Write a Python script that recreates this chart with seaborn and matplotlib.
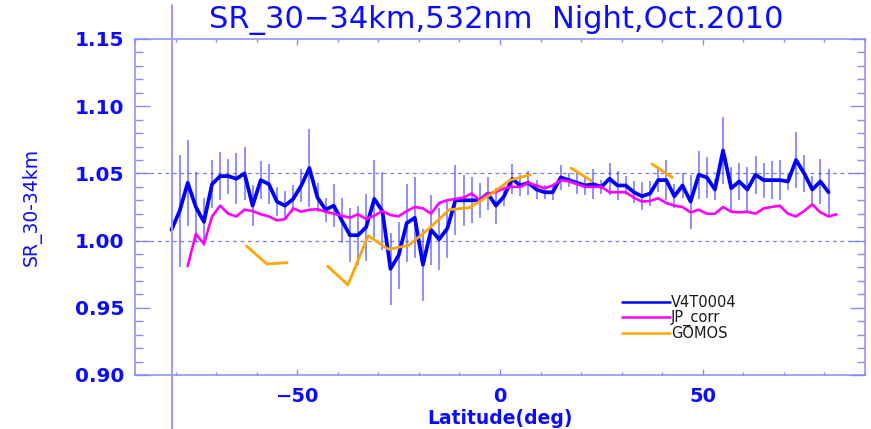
import numpy as np
import pandas as pd
import matplotlib
matplotlib.use("Agg")
import matplotlib.pyplot as plt
import seaborn as sns
from matplotlib.lines import Line2D
from matplotlib.ticker import MultipleLocator, FormatStrFormatter

# ---------------- data ----------------
v4_lat = list(range(-81, 82, 2))
v4_val = [1.008, 1.022, 1.043, 1.025, 1.014, 1.042, 1.048, 1.048, 1.046, 1.050,
          1.026, 1.045, 1.042, 1.029, 1.026, 1.031, 1.041, 1.054, 1.032, 1.023,
          1.026, 1.015, 1.004, 1.004, 1.010, 1.031, 1.022, 0.979, 0.989, 1.013,
          1.017, 0.982, 1.008, 1.001, 1.009, 1.030, 1.030, 1.030, 1.030, 1.035,
          1.026, 1.033, 1.046, 1.041, 1.043, 1.038, 1.036, 1.036, 1.047, 1.045,
          1.043, 1.041, 1.042, 1.040, 1.046, 1.041, 1.041, 1.036, 1.033, 1.035,
          1.045, 1.045, 1.033, 1.041, 1.029, 1.049, 1.047, 1.038, 1.067, 1.039,
          1.044, 1.038, 1.049, 1.045, 1.045, 1.045, 1.044, 1.060, 1.050, 1.038,
          1.044, 1.036]
v4_err = [0.030, 0.042, 0.032, 0.026, 0.018, 0.018, 0.018, 0.013, 0.019, 0.020,
          0.015, 0.014, 0.015, 0.011, 0.011, 0.010, 0.012, 0.029, 0.011, 0.009,
          0.016, 0.017, 0.020, 0.022, 0.025, 0.029, 0.029, 0.027, 0.025, 0.029,
          0.030, 0.027, 0.026, 0.023, 0.022, 0.026, 0.019, 0.017, 0.013, 0.0125,
          0.0135, 0.007, 0.011, 0.008, 0.009, 0.007, 0.005, 0.0055, 0.009, 0.005,
          0.0085, 0.007, 0.011, 0.005, 0.012, 0.011, 0.007, 0.008, 0.0105, 0.009,
          0.009, 0.015, 0.009, 0.009, 0.020, 0.018, 0.015, 0.008, 0.025, 0.016,
          0.014, 0.017, 0.014, 0.013, 0.014, 0.015, 0.006, 0.021, 0.014, 0.010,
          0.017, 0.017]

jp_lat = list(range(-77, 84, 2))
jp_val = [0.981, 1.005, 0.9975, 1.018, 1.026, 1.020, 1.018, 1.023, 1.022, 1.0196,
          1.018, 1.015, 1.016, 1.024, 1.0215, 1.023, 1.0233, 1.0215, 1.020, 1.0185,
          1.017, 1.0196, 1.016, 1.0185, 1.022, 1.019, 1.018, 1.022, 1.025, 1.024,
          1.020, 1.028, 1.030, 1.031, 1.032, 1.035, 1.030, 1.035, 1.036, 1.039,
          1.040, 1.040, 1.043, 1.041, 1.039, 1.041, 1.045, 1.044, 1.042, 1.040,
          1.040, 1.040, 1.036, 1.036, 1.036, 1.032, 1.029, 1.0295, 1.0315, 1.028,
          1.026, 1.025, 1.021, 1.023, 1.020, 1.020, 1.025, 1.0215, 1.021, 1.0215,
          1.020, 1.024, 1.025, 1.026, 1.020, 1.018, 1.022, 1.027, 1.021, 1.018,
          1.0195]

gomos_lat = [-62.5, -57.5, -52.5, -47.5, -42.5, -37.5, -32.5, -27.5, -22.5, -17.5, -12.5,
             -7.5, -2.5, 2.5, 7.5, 12.5, 17.5, 22.5, 27.5, 32.5, 37.5, 42.5]
gomos_val = [0.996, 0.9826, 0.9836, np.nan, 0.981, 0.967, 1.0036, 0.9935, 0.9965, 1.009, 1.023,
             1.0245, 1.034, 1.045, 1.049, np.nan, 1.054, 1.0445, np.nan, np.nan, 1.057, 1.047]

series_names = ["V4T0004", "JP_corr", "GOMOS"]
title_text = "SR_30\u221234km,532nm  Night,Oct.2010"
xlabel_text = "Latitude(deg)"
ylabel_text = "SR_30-34km"

# ---------------- style ----------------
sns.set_style("white")
plt.rcParams["font.family"] = ["DejaVu Sans"]

BLUE_TXT = "#0b0bff"
AX_COL = "#8a8aff"
C_V4 = "#0000ff"
C_ERR = "#3535ff"
C_JP = "#ff00ff"
C_GO = "#ffa500"

fig = plt.figure(figsize=(8.71, 4.29), dpi=100)
W, H = 871, 429
ax = fig.add_axes([135 / W, 1 - 375 / H, 730 / W, 336 / H])

df_v4 = pd.DataFrame({"lat": v4_lat, "sr": v4_val, "err": v4_err})
df_jp = pd.DataFrame({"lat": jp_lat, "sr": jp_val})
df_go = pd.DataFrame({"lat": gomos_lat, "sr": gomos_val})
df_go["seg"] = df_go["sr"].isna().cumsum()
df_go = df_go.dropna()

# reference lines
for yv in (1.00, 1.05):
    ax.axhline(yv, color="#7a7aee", lw=0.9, ls=(0, (3, 3)), zorder=1)

# error bars
ax.vlines(df_v4["lat"], df_v4["sr"] - df_v4["err"], df_v4["sr"] + df_v4["err"],
          color=C_ERR, alpha=0.6, lw=1.3, zorder=2)

sns.lineplot(data=df_v4, x="lat", y="sr", color=C_V4, lw=2.7, ax=ax,
             estimator=None, sort=False, zorder=3)
sns.lineplot(data=df_jp, x="lat", y="sr", color=C_JP, lw=1.9, ax=ax,
             estimator=None, sort=False, zorder=4)
sns.lineplot(data=df_go, x="lat", y="sr", units="seg", color=C_GO, lw=2.0, ax=ax,
             estimator=None, sort=False, zorder=5)

ax.set_xlim(-90, 90)
ax.set_ylim(0.90, 1.15)

# vertical light line crossing the figure
ax.axvline(-81, ymin=-0.17, ymax=1.10, color="#9a9aff", lw=1.4, clip_on=False, zorder=6)

# axes styling
for s in ax.spines.values():
    s.set_color(AX_COL)
    s.set_linewidth(1.1)
    s.set_visible(True)

ax.xaxis.set_major_locator(MultipleLocator(50))
ax.xaxis.set_minor_locator(MultipleLocator(10))
ax.yaxis.set_major_locator(MultipleLocator(0.05))
ax.yaxis.set_minor_locator(MultipleLocator(0.01))
ax.yaxis.set_major_formatter(FormatStrFormatter("%.2f"))

ax.tick_params(axis="x", which="major", direction="in", length=4.3, width=1,
               color=AX_COL, top=True, bottom=True, labelsize=14, labelcolor=BLUE_TXT, pad=9)
ax.tick_params(axis="x", which="minor", direction="in", length=2.2, width=1,
               color=AX_COL, top=True, bottom=True)
ax.tick_params(axis="y", which="major", direction="in", length=11, width=1,
               color=AX_COL, left=True, right=True, labelsize=14.5, labelcolor=BLUE_TXT, pad=8)
ax.tick_params(axis="y", which="minor", direction="in", length=5.5, width=1,
               color=AX_COL, left=True, right=True)
for lab in ax.get_xticklabels() + ax.get_yticklabels():
    lab.set_fontweight("bold")

ax.set_xlabel("")
ax.set_ylabel("")
fig.text(500 / W, 1 - 418 / H, xlabel_text, ha="center", va="center",
         fontsize=13.5, fontweight="bold", color=BLUE_TXT)
fig.text(32 / W, 1 - 207 / H, ylabel_text, ha="center", va="center", rotation=90,
         fontsize=13.5, color=BLUE_TXT)

fig.text(496 / W, 1 - 20 / H, title_text, ha="center", va="center",
         fontsize=22, color=BLUE_TXT)

handles = [Line2D([], [], color=c, lw=1.8) for c in (C_V4, C_JP, C_GO)]
leg = ax.legend(handles, series_names, loc="upper left",
                bbox_to_anchor=((622 - 135) / 730, (375 - 295) / 336),
                frameon=False, fontsize=10.5, handlelength=3.3, handletextpad=0.05,
                borderpad=0, borderaxespad=0, labelspacing=0.0)
for t in leg.get_texts():
    t.set_color("#1a1a1a")

fig.savefig("out.png", dpi=100)
